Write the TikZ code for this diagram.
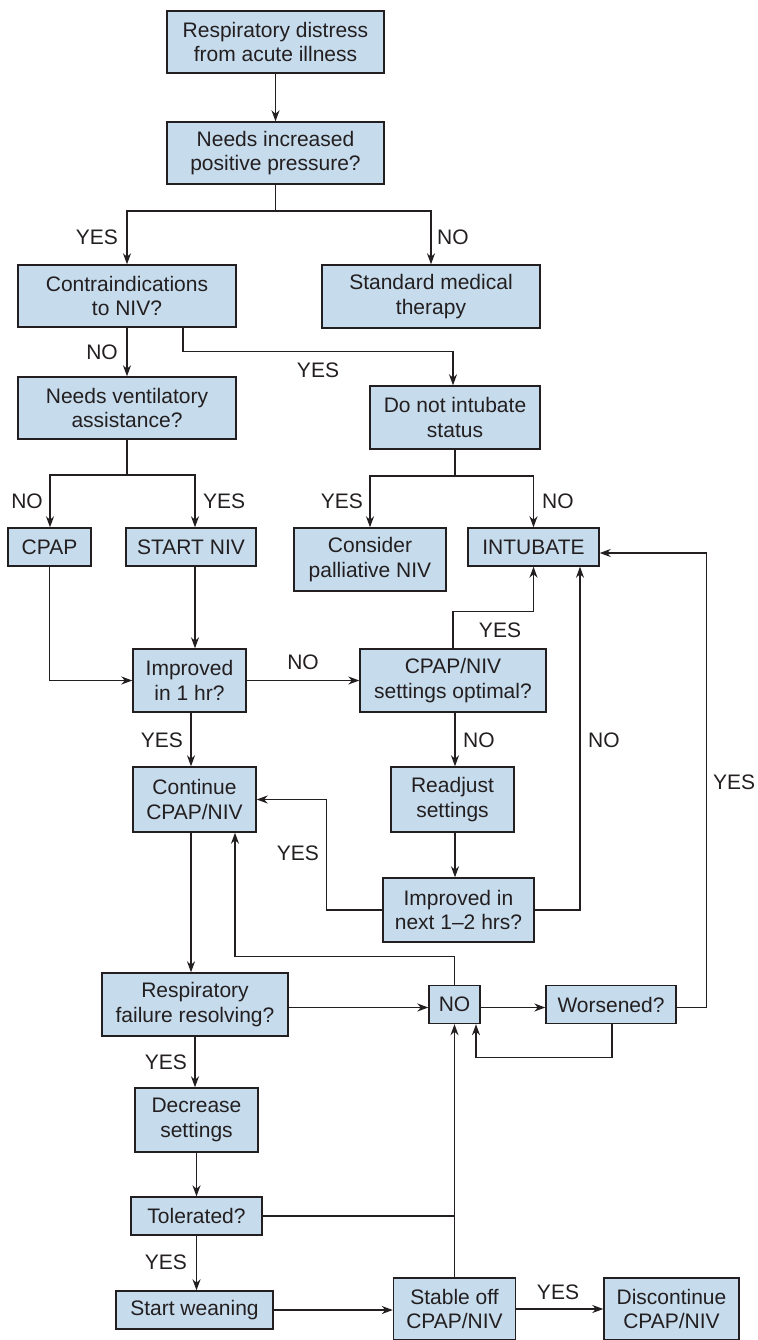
\documentclass[tikz,border=0pt]{standalone}
\usepackage{fontspec}
\setmainfont{Liberation Sans}
\usetikzlibrary{arrows.meta}
\definecolor{boxfill}{RGB}{198,219,236}
\definecolor{ink}{RGB}{35,31,32}
\begin{document}
\begin{tikzpicture}[x=1pt,y=-1pt,
  box/.style={draw=ink, fill=boxfill, line width=1.4pt, align=center, inner sep=0pt,
    font=\fontsize{21}{24.5}\selectfont, text=ink},
  lbl/.style={font=\fontsize{21}{24.5}\selectfont, text=ink, inner sep=0pt},
  arr/.style={draw=ink, line width=1.3pt, -{Stealth[length=11pt,width=8pt,inset=3.5pt]}},
  ln/.style={draw=ink, line width=1.3pt}]
\useasboundingbox (0,0) rectangle (757,1340);

% nodes
\node[box, minimum width=217pt, minimum height=62pt] (n1) at (275.5,42) {Respiratory distress\\from acute illness};
\node[box, minimum width=217pt, minimum height=62pt] (n2) at (275.5,153) {Needs increased\\positive pressure?};
\node[box, minimum width=218pt, minimum height=62pt] (n3) at (127,296) {Contraindications\\to NIV?};
\node[box, minimum width=218pt, minimum height=63pt] (n4) at (431,296.5) {Standard medical\\therapy};
\node[box, minimum width=218pt, minimum height=62pt] (n5) at (127,408) {Needs ventilatory\\assistance?};
\node[box, minimum width=170pt, minimum height=63pt] (n6) at (455,417.5) {Do not intubate\\status};
\node[box, minimum width=83pt, minimum height=38pt] (n7) at (49.5,547) {CPAP};
\node[box, minimum width=130pt, minimum height=38pt] (n8) at (191,547) {START NIV};
\node[box, minimum width=152pt, minimum height=63pt] (n9) at (370,559.5) {Consider\\palliative NIV};
\node[box, minimum width=131pt, minimum height=38pt] (n10) at (533.5,547) {INTUBATE};
\node[box, minimum width=113pt, minimum height=63pt] (n11) at (189.5,680.5) {Improved\\in 1 hr?};
\node[box, minimum width=186pt, minimum height=63pt] (n12) at (453,680.5) {CPAP/NIV\\settings optimal?};
\node[box, minimum width=123pt, minimum height=65pt] (n13) at (194.5,799.5) {Continue\\CPAP/NIV};
\node[box, minimum width=123pt, minimum height=65pt] (n14) at (452.5,799.5) {Readjust\\settings};
\node[box, minimum width=151pt, minimum height=64pt] (n15) at (458.5,910) {Improved in\\next 1--2 hrs?};
\node[box, minimum width=186pt, minimum height=63pt] (n16) at (195,1004.5) {Respiratory\\failure resolving?};
\node[box, minimum width=51pt, minimum height=38pt] (n17) at (454.5,1004.5) {NO};
\node[box, minimum width=130pt, minimum height=38pt] (n18) at (611,1004.5) {Worsened?};
\node[box, minimum width=123pt, minimum height=64pt] (n19) at (196.5,1120) {Decrease\\settings};
\node[box, minimum width=131pt, minimum height=38pt] (n20) at (196.5,1216) {Tolerated?};
\node[box, minimum width=157pt, minimum height=38pt] (n21) at (194.5,1310) {Start weaning};
\node[box, minimum width=122pt, minimum height=62pt] (n22) at (454.5,1309) {Stable off\\CPAP/NIV};
\node[box, minimum width=135pt, minimum height=62pt] (n23) at (671.5,1309) {Discontinue\\CPAP/NIV};

% connectors
\draw[arr] (n1) -- (n2);
\coordinate (s2) at (275.5,211);
\draw[ln] (n2.south) -- (s2);
\draw[arr] (s2) -| (n3.north);
\draw[arr] (s2) -| (n4.north);
\draw[arr] (n3) -- (n5);
\draw[arr] ([xshift=56pt]n3.south) -- ++(0,24) -| ([xshift=-2pt]n6.north);
\coordinate (s5) at (127,475);
\draw[ln] (n5.south) -- (s5);
\draw[arr] (s5) -| ([xshift=0.5pt]n7.north);
\draw[arr] (s5) -| ([xshift=4pt]n8.north);
\coordinate (s6) at (455,476);
\draw[ln] (n6.south) -- (s6);
\draw[arr] (s6) -| (n9.north);
\draw[arr] (s6) -| (n10.north);
\draw[arr] (n7.south) |- (n11.west);
\draw[arr] ([xshift=4pt]n8.south) -- ([xshift=4pt]n8.south |- n11.north);
\draw[arr] (n11.east) -- (n12.west);
\draw[arr] (n12.north) -- ++(0,-37) -| (n10.south);
\draw[arr] ([xshift=1.5pt]n11.south) -- ([xshift=1.5pt]n11.south |- n13.north);
\draw[arr] ([xshift=2pt]n12.south) -- ([xshift=2pt]n12.south |- n14.north);
\draw[arr] ([xshift=2.5pt]n14.south) -- ([xshift=2.5pt]n14.south |- n15.north);
\draw[arr] (n15.east) -| ([xshift=46.5pt]n10.south);
\draw[arr] (n15.west) -- ++(-56,0) |- (n13.east);
\draw[arr] ([xshift=-3.5pt]n13.south) -- ([xshift=-3.5pt]n13.south |- n16.north);
\draw[arr] (n17.north) -- ++(0,-28) -| ([xshift=40.5pt]n13.south);
\draw[arr] ([yshift=-3pt]n16.east) -- ([yshift=-3pt]n16.east -| n17.west);
\draw[arr] ([yshift=-3pt]n17.east) -- ([yshift=-3pt]n17.east -| n18.west);
\draw[arr] ([yshift=-3pt]n18.east) -- ++(30,0) |- ([yshift=-6pt]n10.east);
\draw[arr] ([xshift=1pt]n18.south) -- ++(0,33) -| ([xshift=21.5pt]n17.south);
\draw[arr] (n16.south) -- (n16.south |- n19.north);
\draw[arr] (n19.south) -- (n20.north);
\draw[arr] (n20.south) -- (n20.south |- n21.north);
\draw[ln] (n20.east) -- (n20.east -| n22.north);
\draw[arr] (n22.north) -- (n22.north |- n17.south);
\draw[arr] (n21.east) -- (n21.east -| n22.west);
\draw[arr] (n22.east) -- (n23.west);

% labels
\node[lbl, anchor=east] (l1) at (118,237) {YES};
\node[lbl, anchor=west] (l2) at (437,237) {NO};
\node[lbl, anchor=east] (l3) at (118,352) {NO};
\node[lbl] (l4) at (318,370) {YES};
\node[lbl, anchor=east] (l5) at (43,501) {NO};
\node[lbl, anchor=west] (l6) at (203,501) {YES};
\node[lbl, anchor=east] (l7) at (363,501) {YES};
\node[lbl, anchor=west] (l8) at (542,501) {NO};
\node[lbl] (l9) at (303,662) {NO};
\node[lbl] (l10) at (500,630) {YES};
\node[lbl, anchor=east] (l11) at (183,740) {YES};
\node[lbl, anchor=west] (l12) at (463,740) {NO};
\node[lbl, anchor=west] (l13) at (588,740) {NO};
\node[lbl, anchor=east] (l14) at (319,853) {YES};
\node[lbl, anchor=west] (l15) at (713,782) {YES};
\node[lbl, anchor=east] (l16) at (187,1062) {YES};
\node[lbl, anchor=east] (l17) at (187,1262) {YES};
\node[lbl] (l18) at (558,1292) {YES};
\end{tikzpicture}
\end{document}
